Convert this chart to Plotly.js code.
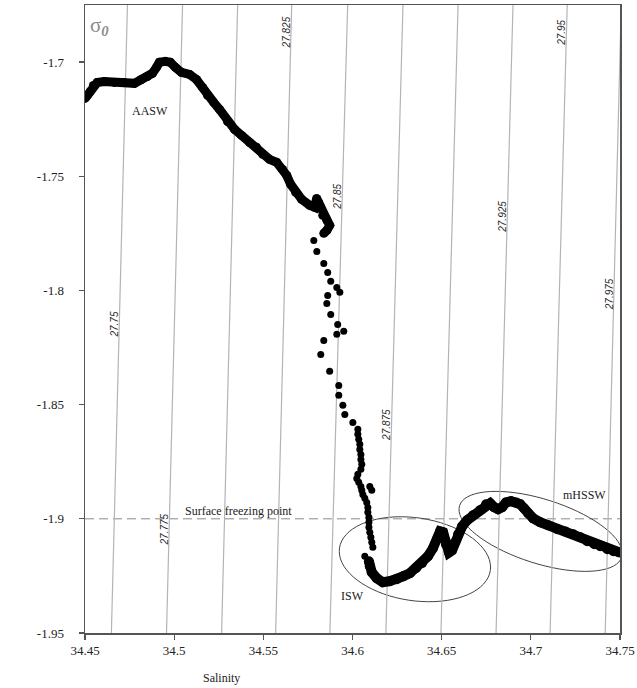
<!DOCTYPE html>
<html>
<head>
<meta charset="utf-8">
<script src="https://cdn.plot.ly/plotly-3.0.1.min.js"></script>
<style>
  html, body { margin: 0; padding: 0; background: #fff; }
  #chart { width: 637px; height: 688px; }
</style>
</head>
<body>
<div id="chart"></div>
<script>
// Theta-S profile: salinity vs potential temperature, with sigma-0 isopycnals.

// Dense upper part of the profile (AASW down to ~-1.775 °C)
const upperS = [34.4500, 34.4513, 34.4530, 34.4547, 34.4569, 34.4608, 34.4665, 34.4721, 34.4777, 34.4816,
  34.4850, 34.4878, 34.4901, 34.4917, 34.4951, 34.4979, 34.5007, 34.5041, 34.5086, 34.5125,
  34.5159, 34.5187, 34.5221, 34.5254, 34.5299, 34.5339, 34.5378, 34.5423, 34.5462, 34.5496,
  34.5535, 34.5575, 34.5608, 34.5631, 34.5653, 34.5681, 34.5715, 34.5760, 34.5788, 34.5799,
  34.5810, 34.5822, 34.5833, 34.5856, 34.5872, 34.5856, 34.5839];
const upperT = [-1.7159, -1.7146, -1.7128, -1.7102, -1.7089, -1.7085, -1.7089, -1.7089, -1.7093, -1.7076,
  -1.7063, -1.7049, -1.7023, -1.7001, -1.6997, -1.7001, -1.7023, -1.7045, -1.7054, -1.7076,
  -1.7111, -1.7146, -1.7176, -1.7207, -1.7260, -1.7295, -1.7321, -1.7352, -1.7373, -1.7404,
  -1.7426, -1.7439, -1.7470, -1.7496, -1.7535, -1.7570, -1.7601, -1.7627, -1.7636, -1.7597,
  -1.7614, -1.7636, -1.7671, -1.7693, -1.7715, -1.7737, -1.7750];

// Sparse samples through the mid-depth transition
const dotS = [34.5783, 34.5800, 34.5839, 34.5861, 34.5878, 34.5912, 34.5929, 34.5861, 34.5856, 34.5878,
  34.5917, 34.5951, 34.5912, 34.5839, 34.5822, 34.5872, 34.5923, 34.5923, 34.5946, 34.5957,
  34.6002, 34.6030, 34.6030, 34.6035, 34.6041, 34.6041, 34.6047, 34.6047, 34.6052, 34.6047,
  34.6030, 34.6024, 34.6035, 34.6047, 34.6097, 34.6108, 34.6052, 34.6058, 34.6069, 34.6080,
  34.6086, 34.6086, 34.6092, 34.6092, 34.6092, 34.6097, 34.6103, 34.6108, 34.6114, 34.6069];
const dotT = [-1.7781, -1.7829, -1.7882, -1.7921, -1.7960, -1.7987, -1.8008, -1.8022, -1.8057, -1.8105,
  -1.8149, -1.8179, -1.8192, -1.8219, -1.8280, -1.8354, -1.8416, -1.8459, -1.8503, -1.8543,
  -1.8578, -1.8608, -1.8630, -1.8652, -1.8674, -1.8696, -1.8718, -1.8740, -1.8761, -1.8783,
  -1.8805, -1.8823, -1.8840, -1.8858, -1.8858, -1.8875, -1.8875, -1.8893, -1.8910, -1.8928,
  -1.8950, -1.8971, -1.8993, -1.9015, -1.9037, -1.9059, -1.9081, -1.9103, -1.9125, -1.9164];

// Dense lower part (ISW minimum and mHSSW)
const lowerS = [34.6092, 34.6097, 34.6108, 34.6136, 34.6170, 34.6209, 34.6249, 34.6283, 34.6322, 34.6356,
  34.6390, 34.6423, 34.6451, 34.6474, 34.6491, 34.6508, 34.6524, 34.6541, 34.6558, 34.6575,
  34.6592, 34.6615, 34.6643, 34.6677, 34.6716, 34.6749, 34.6772, 34.6794, 34.6816, 34.6839,
  34.6861, 34.6889, 34.6917, 34.6940, 34.6962, 34.6985, 34.7013, 34.7052, 34.7097, 34.7148,
  34.7193, 34.7238, 34.7277, 34.7316, 34.7356, 34.7389, 34.7429, 34.7463, 34.7496];
const lowerT = [-1.9186, -1.9208, -1.9234, -1.9260, -1.9278, -1.9273, -1.9265, -1.9252, -1.9238, -1.9216,
  -1.9194, -1.9164, -1.9129, -1.9090, -1.9055, -1.9059, -1.9112, -1.9147, -1.9138, -1.9103,
  -1.9068, -1.9033, -1.9006, -1.8984, -1.8962, -1.8936, -1.8932, -1.8949, -1.8958, -1.8949,
  -1.8928, -1.8923, -1.8928, -1.8936, -1.8954, -1.8976, -1.8998, -1.9015, -1.9028, -1.9046,
  -1.9055, -1.9068, -1.9081, -1.9098, -1.9111, -1.9120, -1.9133, -1.9142, -1.9147];

// Sigma-0 isopycnals: salinity where each crosses the top and bottom of the frame
const sigmaLevels = ['27.75', '27.775', '27.8', '27.825', '27.85', '27.875', '27.9', '27.925', '27.95', '27.975'];
const sigmaTopS = [34.4738, 34.5047, 34.5356, 34.5659, 34.5973, 34.6283, 34.6592, 34.6900, 34.7204, 34.7507];
const sigmaBottomS = [34.4648, 34.4957, 34.5266, 34.5569, 34.5873, 34.6187, 34.6496, 34.6805, 34.7108, 34.7417];
// temperature at which each isopycnal is labelled (null = no label)
const sigmaLabelT = [-1.8148, -1.9046, null, -1.6870, -1.7589, -1.8591, null, -1.7676, -1.6870, -1.8017];

// Axes
const sRange = [34.45, 34.75];
const tRange = [-1.95, -1.675];
const sTicks = [34.45, 34.5, 34.55, 34.6, 34.65, 34.7, 34.75];
const sTickText = ['34.45', '34.5', '34.55', '34.6', '34.65', '34.7', '34.75'];
const tTicks = [-1.95, -1.9, -1.85, -1.8, -1.75, -1.7];
const tTickText = ['-1.95', '-1.9', '-1.85', '-1.8', '-1.75', '-1.7'];

const freezingT = -1.9;

// Water mass labels and their envelopes (centre + two conjugate half-axes, data units)
const massNames = ['AASW', 'ISW', 'mHSSW'];
const massS = [34.4864, 34.6002, 34.7299];
const massT = [-1.7216, -1.9339, -1.8897];
const ellipseCenters = [[34.6350, -1.9177], [34.7055, -1.9055]];
const ellipseU = [[0.04228, -0.004983], [0.04545, -0.011296]];
const ellipseV = [[-0.003478, -0.017925], [-0.005483, -0.013389]];

const serif = 'Liberation Serif, Times New Roman, serif';
const sans = 'Liberation Sans, Arial, sans-serif';

// isopycnal lines as one trace with gaps
const isoX = [], isoY = [];
sigmaTopS.forEach((s, i) => {
  isoX.push(s, sigmaBottomS[i], null);
  isoY.push(tRange[1], tRange[0], null);
});

const traces = [
  {
    x: isoX, y: isoY, type: 'scatter', mode: 'lines',
    line: { color: '#b4b4b4', width: 1.2 }, hoverinfo: 'skip', showlegend: false
  },
  {
    x: upperS, y: upperT, type: 'scatter', mode: 'lines+markers',
    line: { color: '#000', width: 9 }, marker: { color: '#000', size: 9 },
    showlegend: false
  },
  {
    x: dotS, y: dotT, type: 'scatter', mode: 'markers',
    marker: { color: '#000', size: 7 }, showlegend: false
  },
  {
    x: lowerS, y: lowerT, type: 'scatter', mode: 'lines+markers',
    line: { color: '#000', width: 10 }, marker: { color: '#000', size: 10 },
    showlegend: false
  }
];

function ellipsePath(c, u, v) {
  let d = '';
  for (let k = 0; k <= 72; k++) {
    const t = k / 72 * 2 * Math.PI;
    const x = c[0] + u[0] * Math.cos(t) + v[0] * Math.sin(t);
    const y = c[1] + u[1] * Math.cos(t) + v[1] * Math.sin(t);
    d += (k === 0 ? 'M' : 'L') + x.toFixed(5) + ',' + y.toFixed(5);
  }
  return d + 'Z';
}

const shapes = [
  {
    type: 'line', xref: 'paper', yref: 'y', x0: 0, x1: 1, y0: freezingT, y1: freezingT,
    line: { color: '#8a8a8a', width: 1, dash: '9px,5px' }, layer: 'below'
  }
];
ellipseCenters.forEach((c, i) => {
  shapes.push({
    type: 'path', xref: 'x', yref: 'y', path: ellipsePath(c, ellipseU[i], ellipseV[i]),
    line: { color: '#444', width: 1 }, fillcolor: 'rgba(0,0,0,0)', layer: 'below'
  });
});

const annotations = [];
sigmaLevels.forEach((lab, i) => {
  const t = sigmaLabelT[i];
  if (t === null) return;
  const f = (t - tRange[1]) / (tRange[0] - tRange[1]);
  const s = sigmaTopS[i] + (sigmaBottomS[i] - sigmaTopS[i]) * f;
  annotations.push({
    x: s, y: t, xref: 'x', yref: 'y', text: '<i>' + lab + '</i>', showarrow: false,
    textangle: -90, xanchor: 'center', yanchor: 'middle', xshift: -5,
    font: { family: sans, size: 10, color: '#2a2a2a' }
  });
});
massNames.forEach((n, i) => {
  annotations.push({
    x: massS[i], y: massT[i], xref: 'x', yref: 'y', text: n, showarrow: false,
    xanchor: 'center', yanchor: 'middle', font: { family: serif, size: 12, color: '#222' }
  });
});
annotations.push(
  {
    x: 34.5361, y: freezingT, xref: 'x', yref: 'y', text: 'Surface freezing point', showarrow: false,
    xanchor: 'center', yanchor: 'bottom', yshift: -1, font: { family: serif, size: 12, color: '#222' }
  },
  {
    x: 0.005, y: 1, xref: 'paper', yref: 'paper', text: 'σ<sub><i><b>0</b></i></sub>', showarrow: false,
    xanchor: 'left', yanchor: 'top', yshift: -6, font: { family: serif, size: 21, color: '#8c8c8c' }
  },
  {
    x: 34.4363, y: -1.8123, xref: 'x', yref: 'y', text: 'Potential Temperature-0 (<sup>o</sup>C)',
    showarrow: false, textangle: -90, xanchor: 'center', yanchor: 'middle', xshift: -53,
    font: { family: sans, size: 12, color: '#222' }
  },
  {
    x: 34.5263, y: 0, xref: 'x', yref: 'paper', text: 'Salinity', showarrow: false,
    xanchor: 'center', yanchor: 'top', yshift: -36, font: { family: serif, size: 12, color: '#222' }
  }
);

const axisCommon = {
  showgrid: false, zeroline: false, showline: true, linecolor: '#555', linewidth: 1.5,
  mirror: true, ticks: 'outside', ticklen: 5, tickwidth: 1.2, tickcolor: '#555',
  tickfont: { family: serif, size: 13, color: '#222' }, fixedrange: true
};

const layout = {
  width: 637, height: 688,
  margin: { l: 85, r: 17, t: 5, b: 55 },
  paper_bgcolor: '#fff', plot_bgcolor: '#fff',
  showlegend: false,
  xaxis: Object.assign({}, axisCommon, {
    range: sRange, tickmode: 'array', tickvals: sTicks, ticktext: sTickText
  }),
  yaxis: Object.assign({}, axisCommon, {
    range: tRange, tickmode: 'array', tickvals: tTicks, ticktext: tTickText, ticklabelstandoff: 12
  }),
  shapes: shapes,
  annotations: annotations
};

Plotly.newPlot('chart', traces, layout, { staticPlot: true, displayModeBar: false });
</script>
</body>
</html>
